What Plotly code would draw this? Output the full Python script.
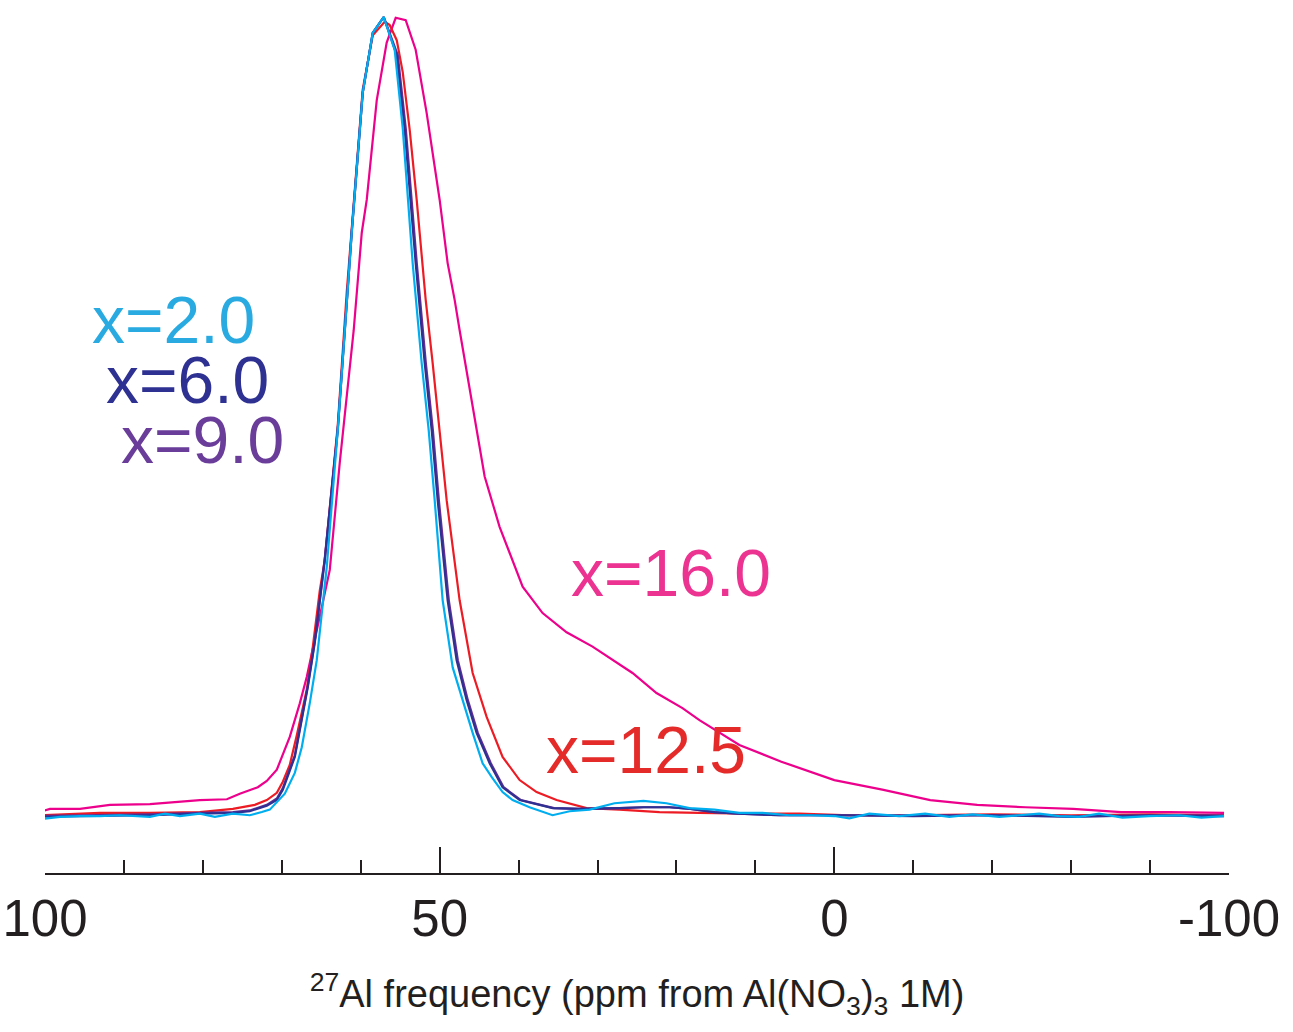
import plotly.graph_objects as go

# ---- data (ppm, normalized intensity) ----
ppm_x20 = [100.63, 98.10, 95.57, 93.04, 90.51, 86.71, 84.81, 82.91, 80.38, 78.48, 76.20, 74.05,
           72.53, 71.52, 69.62, 68.35, 67.47, 66.46, 65.57, 64.81, 64.30, 62.91, 61.77, 61.14,
           59.75, 58.48, 57.09, 55.70, 54.68, 53.42, 52.28, 51.39, 50.63, 49.62, 48.35, 47.09,
           45.82, 44.56, 43.42, 42.03, 40.76, 38.61, 35.70, 33.54, 31.01, 27.85, 24.18, 21.27,
           18.35, 15.19, 12.03, 9.11, 5.70, 3.04, 0.0, -1.90, -4.43, -8.23, -11.5, -14.56, -17.5,
           -20.89, -25.95, -28.5, -31.01, -33.54, -36.5, -39.87, -43.67, -46.5, -49.37]
int_x20 = [-0.004, -0.001, 0.000, 0.000, 0.001, -0.001, 0.003, 0.000, 0.003, -0.001, 0.003, 0.001,
           0.005, 0.008, 0.028, 0.054, 0.086, 0.141, 0.195, 0.270, 0.312, 0.483, 0.650, 0.730,
           0.905, 0.980, 1.000, 0.959, 0.861, 0.692, 0.567, 0.483, 0.395, 0.270, 0.186, 0.145,
           0.104, 0.066, 0.049, 0.030, 0.020, 0.011, 0.001, 0.006, 0.008, 0.016, 0.019, 0.016,
           0.010, 0.008, 0.004, 0.004, 0.001, 0.001, 0.000, -0.003, 0.003, 0.000, 0.003, -0.001, 0.002,
           -0.001, 0.003, 0.000, -0.001, 0.003, -0.002, 0.000, 0.001, -0.002, 0.000]

ppm_x60 = [100.63, 93.04, 86.71, 80.38, 76.20, 74.05, 71.90, 70.63, 69.87, 68.35, 67.47, 66.71,
           65.82, 65.19, 64.56, 62.91, 61.77, 61.14, 59.75, 58.48, 57.09, 55.44, 54.43, 53.04,
           51.90, 51.01, 50.25, 48.99, 47.85, 46.58, 45.32, 43.67, 42.03, 39.87, 35.70, 32.28,
           27.22, 24.18, 20.89, 18.23, 15.19, 12.15, 6.96, 0.0, -10.0, -20.0, -30.0, -40.0, -49.37]
int_x60 = [-0.001, 0.000, 0.001, 0.003, 0.004, 0.006, 0.013, 0.020, 0.033, 0.074, 0.120, 0.161,
           0.217, 0.267, 0.320, 0.483, 0.650, 0.730, 0.905, 0.980, 1.000, 0.952, 0.859, 0.692,
           0.567, 0.483, 0.395, 0.270, 0.195, 0.145, 0.104, 0.066, 0.036, 0.020, 0.010, 0.009,
           0.010, 0.011, 0.011, 0.009, 0.005, 0.003, 0.001, 0.001, 0.000, 0.001, -0.001, 0.001, 0.000]

ppm_x90 = [100.63, 93.04, 86.71, 80.38, 76.20, 74.05, 71.90, 70.63, 69.87, 68.35, 67.47, 66.71,
           65.82, 65.19, 64.56, 62.91, 61.77, 61.14, 59.75, 58.48, 57.09, 55.30, 54.28, 52.90,
           51.75, 50.86, 50.10, 48.84, 47.70, 46.43, 45.17, 43.52, 41.90, 39.70, 35.50, 32.28,
           27.22, 24.18, 20.89, 18.23, 15.19, 12.15, 6.96, 0.0, -10.0, -20.0, -30.0, -40.0, -49.37]
int_x90 = [0.000, 0.001, 0.002, 0.004, 0.005, 0.007, 0.014, 0.022, 0.035, 0.076, 0.122, 0.163,
           0.219, 0.269, 0.322, 0.485, 0.652, 0.732, 0.905, 0.980, 1.000, 0.952, 0.859, 0.692,
           0.567, 0.483, 0.395, 0.270, 0.195, 0.145, 0.104, 0.066, 0.036, 0.020, 0.010, 0.009,
           0.010, 0.011, 0.011, 0.009, 0.005, 0.003, 0.001, 0.001, 0.001, 0.001, 0.000, 0.001, 0.001]

ppm_x125 = [100.63, 93.04, 86.71, 80.38, 76.20, 73.42, 71.90, 70.63, 69.87, 68.99, 68.10, 66.84,
            66.08, 65.19, 64.56, 62.91, 61.77, 61.14, 59.75, 58.48, 56.96, 56.33, 55.44, 54.68,
            53.80, 52.91, 51.77, 50.89, 50.00, 49.11, 47.47, 45.82, 44.05, 42.03, 39.87, 37.72,
            35.19, 31.39, 27.22, 22.15, 17.09, 10.76, 4.43, -1.90, -8.23, -20.0, -30.0, -40.0, -49.37]
int_x125 = [0.001, 0.004, 0.004, 0.005, 0.009, 0.014, 0.020, 0.029, 0.043, 0.064, 0.101, 0.158,
            0.211, 0.282, 0.320, 0.489, 0.656, 0.736, 0.909, 0.977, 0.994, 0.990, 0.971, 0.931,
            0.859, 0.771, 0.646, 0.567, 0.483, 0.395, 0.270, 0.179, 0.124, 0.074, 0.045, 0.030,
            0.020, 0.010, 0.008, 0.005, 0.004, 0.003, 0.003, 0.001, 0.001, 0.002, 0.001, 0.002, 0.001]

ppm_x160 = [100.63, 99.37, 95.57, 91.77, 86.71, 80.38, 76.96, 75.32, 73.04, 71.90, 70.63, 68.99,
            67.72, 66.84, 63.92, 62.66, 60.89, 59.87, 59.24, 57.97, 56.71, 55.57, 54.30, 53.04,
            51.65, 50.00, 48.99, 48.10, 47.47, 45.32, 44.30, 42.41, 39.49, 36.96, 33.92, 30.63,
            25.57, 22.53, 19.24, 17.09, 12.03, 6.71, 0.0, -6.08, -12.15, -18.10, -24.18, -30.25,
            -36.33, -42.41, -49.37]
int_x160 = [0.005, 0.009, 0.009, 0.014, 0.015, 0.020, 0.021, 0.028, 0.036, 0.044, 0.058, 0.099,
            0.141, 0.174, 0.308, 0.442, 0.608, 0.730, 0.771, 0.896, 0.968, 0.999, 0.996, 0.959,
            0.880, 0.771, 0.692, 0.646, 0.608, 0.483, 0.425, 0.362, 0.287, 0.254, 0.230, 0.212,
            0.179, 0.154, 0.135, 0.120, 0.089, 0.068, 0.045, 0.033, 0.020, 0.014, 0.011, 0.009,
            0.005, 0.005, 0.004]

series_names = ["x=2.0", "x=6.0", "x=9.0", "x=12.5", "x=16.0"]
line_colors = ["#00aeef", "#2e3192", "#662d91", "#ed1c24", "#ec008c"]
label_colors = ["#29abe2", "#2e3192", "#6a3d9a", "#e52b2a", "#ec3392"]
# label anchor positions (ppm, intensity)
label_ppm = [83.7, 81.9, 80.1, 23.9, 20.7]
label_int = [0.621, 0.546, 0.471, 0.083, 0.304]

tick_vals = [100, 50, 0, -50]
tick_text = ["100", "50", "0", "-100"]
minor_vals = [90, 80, 70, 60, 40, 30, 20, 10, -10, -20, -30, -40]

xs = [ppm_x20, ppm_x60, ppm_x90, ppm_x125, ppm_x160]
ys = [int_x20, int_x60, int_x90, int_x125, int_x160]

fig = go.Figure()
draw_order = [4, 3, 2, 1, 0]
for i in draw_order:
    fig.add_trace(go.Scatter(x=xs[i], y=ys[i], mode="lines", name=series_names[i],
                             line=dict(color=line_colors[i], width=2.2), showlegend=False))

for i in range(5):
    fig.add_annotation(x=label_ppm[i], y=label_int[i], text=series_names[i], showarrow=False,
                       xanchor="center", yanchor="middle", height=58,
                       font=dict(family="Liberation Sans, Arial, sans-serif", size=66,
                                 color=label_colors[i]))

sans = "Liberation Sans, Arial, sans-serif"
fig.update_layout(
    width=1293, height=1032,
    margin=dict(l=45, r=64, t=10, b=159, autoexpand=False),
    paper_bgcolor="white", plot_bgcolor="white",
    xaxis=dict(
        range=[100, -50], showgrid=False, zeroline=False, automargin=False,
        showline=True, linecolor="#231f20", linewidth=1.5,
        tickmode="array", tickvals=tick_vals, ticktext=tick_text,
        ticks="inside", ticklen=26, tickwidth=1.5, tickcolor="#231f20",
        tickfont=dict(family=sans, size=51, color="#231f20"),
        ticklabeloverflow="allow", ticklabelstandoff=0,
        minor=dict(tickmode="array", tickvals=minor_vals, ticks="inside", ticklen=13,
                   tickwidth=1.5, tickcolor="#231f20", showgrid=False),
        title=dict(text="<sup>27</sup>Al frequency (ppm from Al(NO<sub>3</sub>)<sub>3</sub> 1M)",
                   font=dict(family=sans, size=38, color="#231f20"), standoff=34),
    ),
    yaxis=dict(range=[-0.0713, 1.00876], visible=False, showgrid=False, zeroline=False),
)

# remove the default page margin so the figure sits at the window's top-left corner
fig.write_html("out.html", config={"displayModeBar": False},
               post_script="document.body.style.margin='0px';")
